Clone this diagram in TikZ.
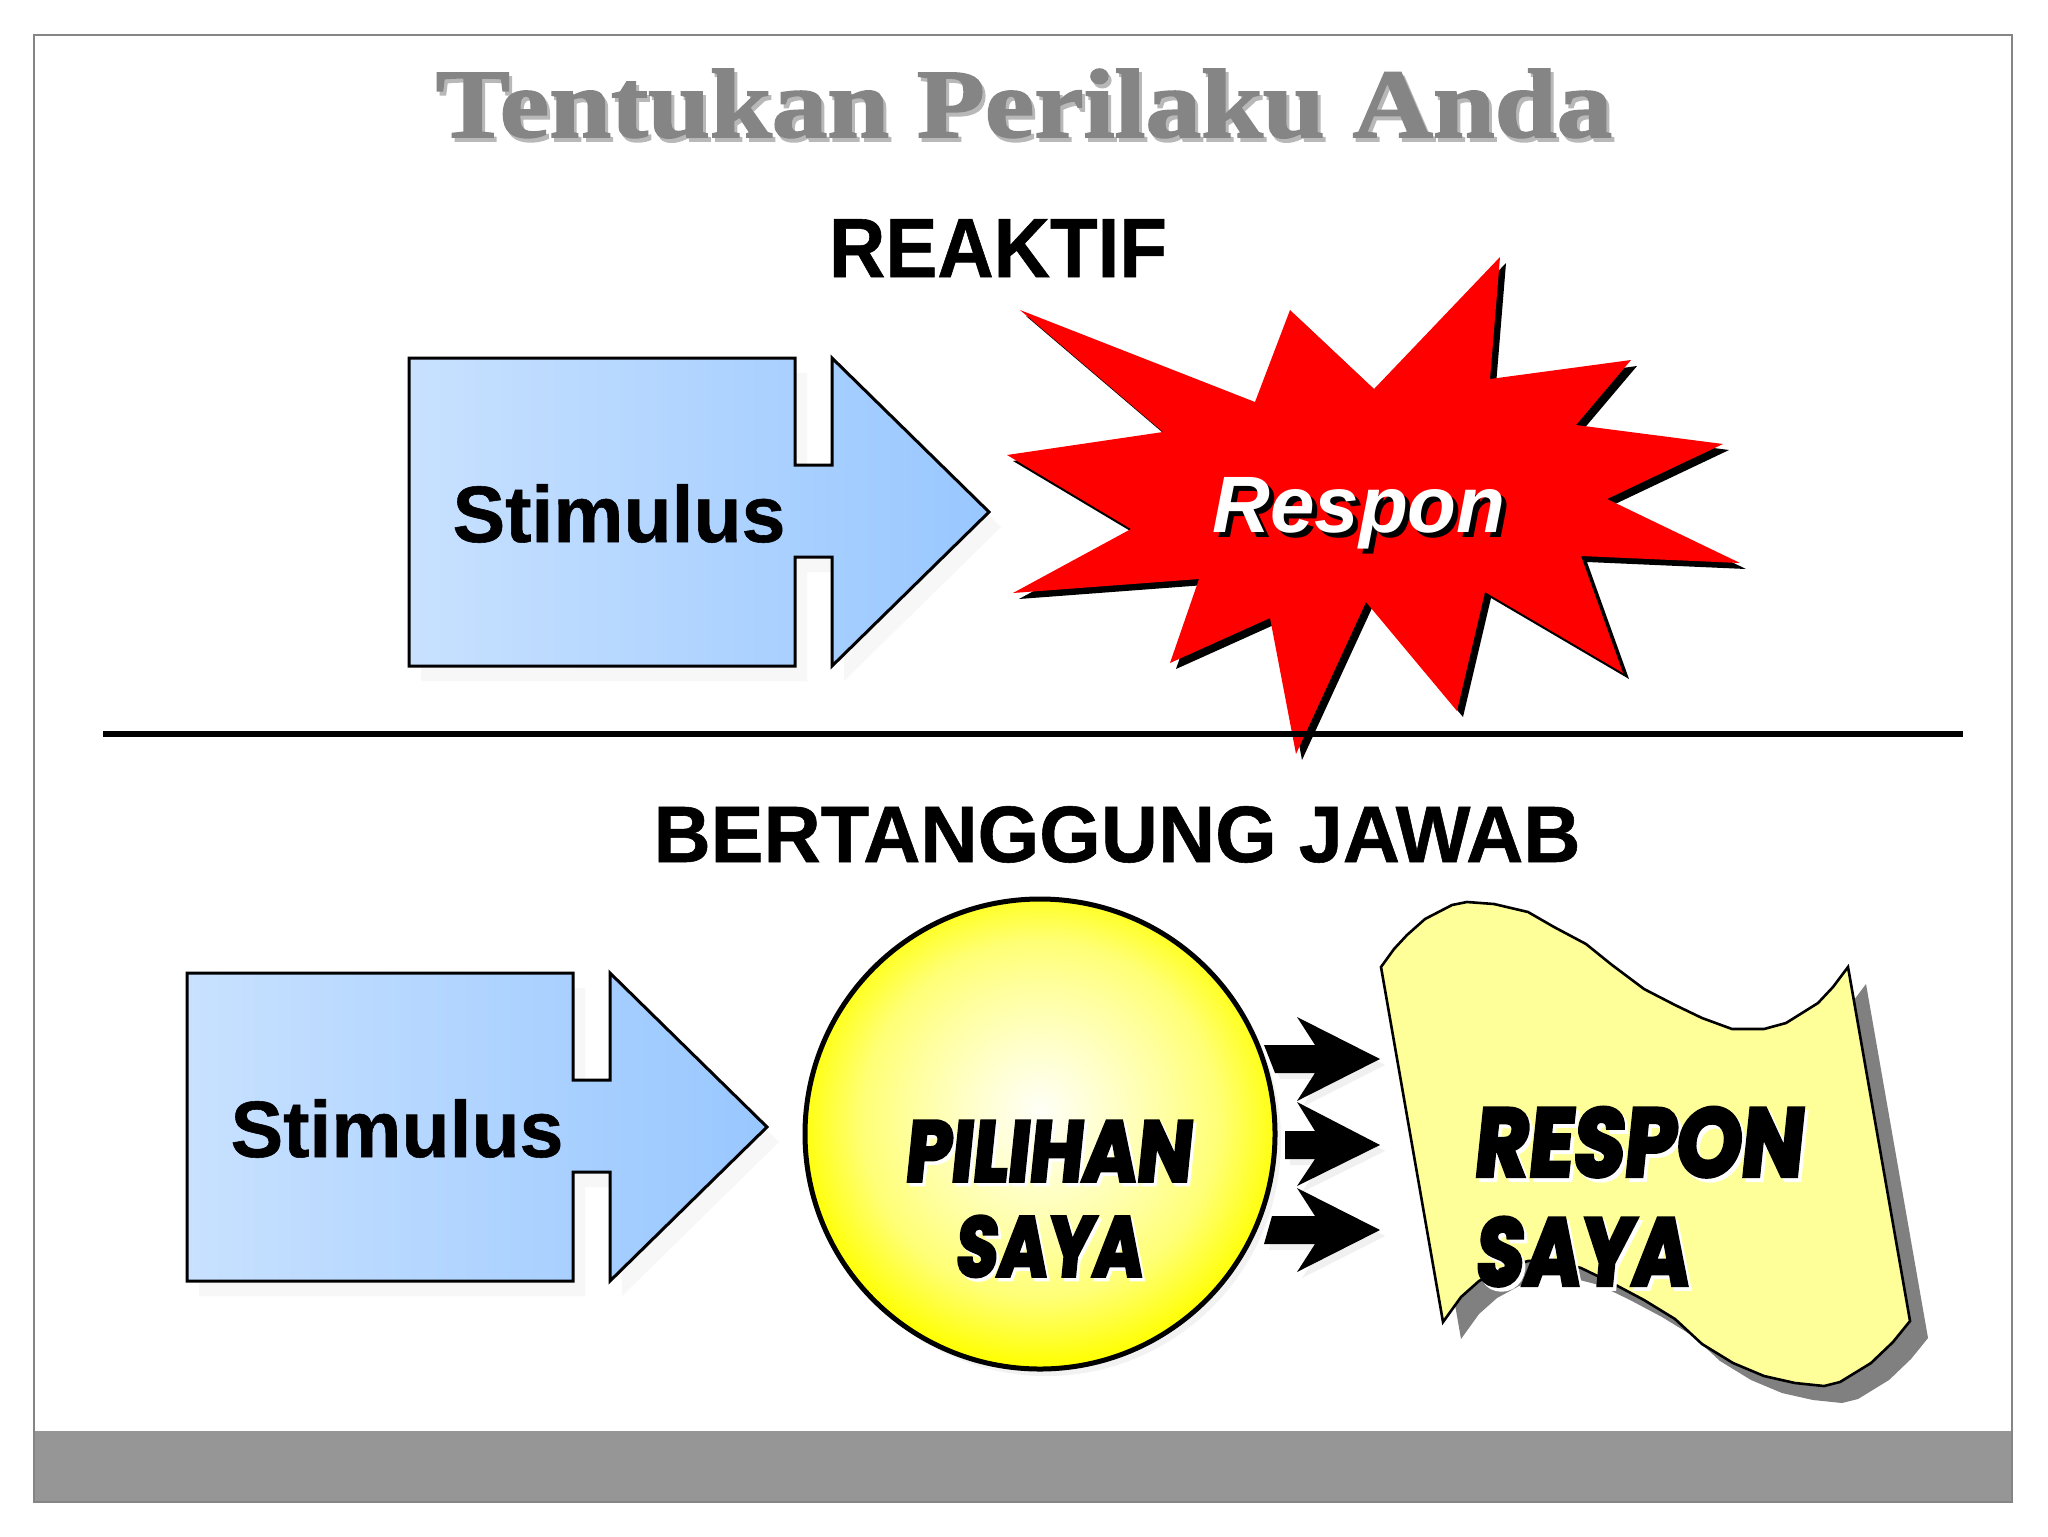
\documentclass[tikz,border=0pt]{standalone}
\usepackage{fontspec}
\setmainfont[BoldFeatures={FakeBold=0.7}]{Liberation Sans}
\newfontfamily\titlefont[FakeBold=1.6]{Liberation Serif Bold}
\newfontfamily\chunky[FakeBold=4.5,FakeSlant=0.12]{Poppins Bold}
\definecolor{framegray}{HTML}{858585}
\definecolor{bargray}{HTML}{969696}
\definecolor{titlegray}{HTML}{858585}
\definecolor{bluel}{HTML}{C8E1FF}
\definecolor{bluer}{HTML}{98C7FF}
\definecolor{bannerfill}{HTML}{FFFF99}
\definecolor{bannershade}{HTML}{808080}
% text with a drop shadow: #1 shadow colour, #2 dx, #3 dy (downwards), #4 text
\newcommand{\dropped}[4]{\leavevmode\rlap{\hspace{#2}\raisebox{-#3}{\textcolor{#1}{#4}}}#4}
\newcommand{\chunkword}[3]{\scalebox{#1}[#2]{\dropped{white}{1.2pt}{1.2pt}{#3}}}
\pgfdeclareradialshading{glow}{\pgfpoint{0bp}{2.5bp}}{%
  rgb(0bp)=(1,1,0.97);rgb(8bp)=(1,1,0.78);rgb(14bp)=(1,1,0.62);rgb(19bp)=(1,1,0.46);rgb(23bp)=(1,1,0.2);rgb(26bp)=(1,1,0);rgb(50bp)=(1,1,0)}
\tikzset{
  x=0.5pt,y=-0.5pt,
  sans40/.style={font=\fontsize{40}{44}\selectfont\bfseries,text=black,inner sep=0,anchor=base},
  chunk/.style={font=\fontsize{30}{34}\selectfont\chunky,text=black,inner sep=0,anchor=base},
  bluearrow/.style={draw=black,line width=1.5pt,left color=bluel,right color=bluer},
  softshadow/.style={fill=black!3,draw=none},
  smallarrow/.style={fill=black,draw=none},
  smallshadow/.style={fill=black!6,draw=none},
}
\def\bluearrowpath{(0,0)--(386,0)--(386,107)--(423,107)--(423,0)--(580,154)--(423,308)--(423,199)--(386,199)--(386,308)--(0,308)--cycle}
\def\starpath{(1020,310)--(1255,402)--(1290,310)--(1374,389)--(1500,257)--(1490,379)--(1631,360)--(1576,425)--(1723,444)--(1607,499)--(1740,563)--(1581,556)--(1623,673)--(1485,592)--(1457,711)--(1366,602)--(1296,754)--(1270,618)--(1170,663)--(1199,579)--(1013,593)--(1131,529)--(1007,455)--(1163,432)--cycle}
\def\bannerpath{(1381,967)--(1394,949)--(1407,935)--(1425,919)--(1452,905)--(1467,902)--(1494,904)--(1528,912)--(1554,927)--(1586,944)--(1612,965)--(1644,989)--(1675,1005)--(1702,1018)--(1732,1029)--(1764,1029)--(1786,1023)--(1818,1003)--(1833,987)--(1848,967)--(1910,1321)--(1893,1342)--(1871,1363)--(1840,1382)--(1824,1386)--(1795,1383)--(1764,1376)--(1733,1363)--(1702,1344)--(1675,1319)--(1644,1300)--(1612,1283)--(1581,1268)--(1554,1261)--(1528,1261)--(1501,1269)--(1479,1281)--(1461,1297)--(1443,1322)--cycle}
\def\arrowA{(1264,1045)--(1315,1045)--(1297,1017)--(1380,1059)--(1297,1101)--(1315,1073)--(1275,1073)--cycle}
\def\arrowB{(1285,1131)--(1315,1131)--(1297,1102)--(1380,1145)--(1297,1186)--(1315,1159)--(1285,1159)--cycle}
\def\arrowC{(1272,1216)--(1315,1216)--(1297,1188)--(1380,1230)--(1297,1272)--(1315,1244)--(1264,1244)--cycle}
\begin{document}
\begin{tikzpicture}
\useasboundingbox (0,0) rectangle (2048,1536);
\fill[white] (0,0) rectangle (2048,1536);
\fill[bargray] (34,1431) rectangle (2012,1502);
\draw[framegray,line width=1.4pt] (34,35) rectangle (2012,1502);

% title
\node[font=\fontsize{49}{52}\selectfont\titlefont,text=titlegray,inner sep=0,anchor=base] (title) at (1024,137)
  {\scalebox{1.135}[1]{\dropped{black!28}{1.3pt}{2pt}{Tentukan Perilaku Anda}}};
\node[sans40] (reaktif) at (998,277) {\scalebox{0.975}[1.05]{REAKTIF}};

% upper arrow
\begin{scope}[shift={(421,373)}]\fill[softshadow] \bluearrowpath;\end{scope}
\begin{scope}[shift={(409,358)}]\path[bluearrow] \bluearrowpath;\end{scope}
\node[sans40] (stim1) at (619,542) {\scalebox{0.985}[1]{Stimulus}};

% star
\begin{scope}[shift={(6,6)}]\fill[black] \starpath;\end{scope}
\fill[red] \starpath;
\draw[black,line width=2.6pt] (103,734) -- (1963,734);
\node[font=\fontsize{40}{44}\selectfont\bfseries\itshape,text=white,inner sep=0,anchor=base] (resp) at (1359,532)
  {\dropped{black}{2.5pt}{2.5pt}{Respon}};

\node[sans40] (bert) at (1117,862) {\scalebox{0.99}[1]{BERTANGGUNG JAWAB}};

% lower arrow
\begin{scope}[shift={(199,988)}]\fill[softshadow] \bluearrowpath;\end{scope}
\begin{scope}[shift={(187,973)}]\path[bluearrow] \bluearrowpath;\end{scope}
\node[sans40] (stim2) at (397,1157) {\scalebox{0.985}[1]{Stimulus}};

% small arrows
\begin{scope}[shift={(5,6)}]
  \fill[smallshadow] \arrowA; \fill[smallshadow] \arrowB; \fill[smallshadow] \arrowC;
\end{scope}
\fill[smallarrow] \arrowA;
\fill[smallarrow] \arrowB;
\fill[smallarrow] \arrowC;

% circle
\fill[black!5] (1046,1141) circle (235);
\path[shading=glow,draw=black,line width=2.5pt] (1040,1134) circle (235);

% banner
\begin{scope}[shift={(18,17)}]\fill[bannershade] \bannerpath;\end{scope}
\draw[fill=bannerfill,draw=black,line width=1.3pt] \bannerpath;

\node[chunk] (pil) at (1047,1181) {\chunkword{1.22}{1.42}{PILIHAN}};
\node[chunk] (say) at (1048,1276) {\chunkword{1.13}{1.40}{SAYA}};
\node[chunk] (res) at (1637,1176) {\chunkword{1.38}{1.60}{RESPON}};
\node[chunk] (say2) at (1581,1285) {\chunkword{1.29}{1.58}{SAYA}};
\end{tikzpicture}
\end{document}
